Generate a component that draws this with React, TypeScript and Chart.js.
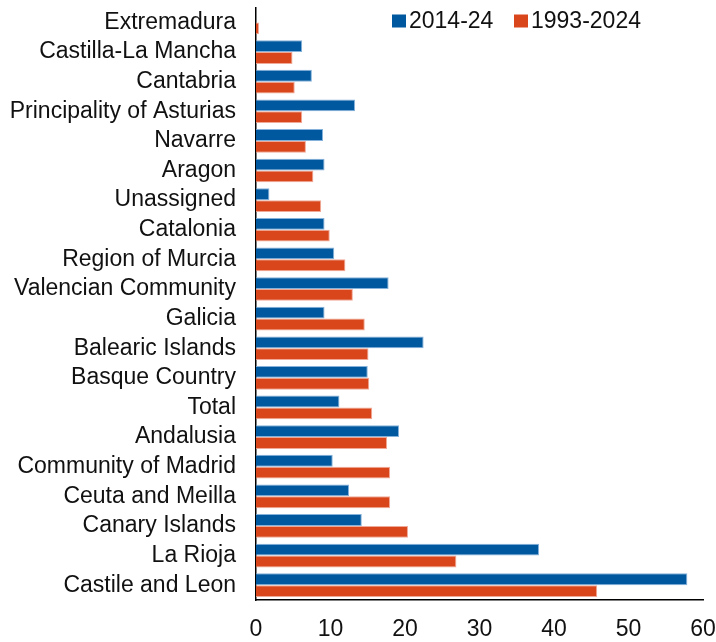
import React, { useEffect, useRef } from "react";
import { Chart, registerables } from "chart.js";

Chart.register(...registerables);

const regions = [
  "Extremadura",
  "Castilla-La Mancha",
  "Cantabria",
  "Principality of Asturias",
  "Navarre",
  "Aragon",
  "Unassigned",
  "Catalonia",
  "Region of Murcia",
  "Valencian Community",
  "Galicia",
  "Balearic Islands",
  "Basque Country",
  "Total",
  "Andalusia",
  "Community of Madrid",
  "Ceuta and Meilla",
  "Canary Islands",
  "La Rioja",
  "Castile and Leon",
];

const recent = [
  0, 6.2, 7.5, 13.3, 9.0, 9.2, 1.8, 9.2, 10.5, 17.8,
  9.2, 22.5, 15.0, 11.2, 19.2, 10.3, 12.5, 14.2, 38.0, 57.9,
];

const longRun = [
  0.4, 4.9, 5.2, 6.2, 6.7, 7.7, 8.75, 9.9, 12.0, 13.0,
  14.6, 15.1, 15.2, 15.6, 17.6, 18.0, 18.0, 20.4, 26.9, 45.8,
];

const seriesNames = ["2014-24", "1993-2024"];
const xTicks = [0, 10, 20, 30, 40, 50, 60];

const FONT = "'Liberation Sans', Arial, Helvetica, sans-serif";
const FONT_SIZE = 23;
const BLUE = "#00589E";
const ORANGE = "#D9461B";

// Legend drawn inside the plot, top right
const insideLegend = {
  id: "insideLegend",
  afterDraw(chart: any) {
    const ctx = chart.ctx;
    const items = [
      { box: 392, text: 409 },
      { box: 514, text: 531 },
    ];
    ctx.save();
    ctx.font = `${FONT_SIZE}px ${FONT}`;
    ctx.textBaseline = "middle";
    ctx.textAlign = "left";
    chart.data.datasets.forEach((ds: any, i: number) => {
      const it = items[i];
      ctx.fillStyle = ds.backgroundColor;
      ctx.fillRect(it.box, 14.5, 14, 13);
      ctx.fillStyle = "#111";
      ctx.fillText(ds.label, it.text, 21.5);
    });
    ctx.restore();
  },
};

export default function App() {
  const ref = useRef<HTMLCanvasElement>(null);

  useEffect(() => {
    if (!ref.current) return;
    const chart = new Chart(ref.current, {
      type: "bar",
      data: {
        labels: regions,
        datasets: [
          {
            label: seriesNames[0],
            data: recent,
            backgroundColor: BLUE,
            borderColor: "rgba(120,170,215,0.9)",
            borderWidth: 1,
            borderSkipped: "start",
          },
          {
            label: seriesNames[1],
            data: longRun,
            backgroundColor: ORANGE,
            borderColor: "rgba(240,160,140,0.9)",
            borderWidth: 1,
            borderSkipped: "start",
          },
        ],
      },
      options: {
        indexAxis: "y",
        responsive: false,
        animation: false,
        devicePixelRatio: 1,
        layout: { padding: { top: 7.6, right: 13, bottom: 0, left: 0 } },
        plugins: {
          legend: { display: false },
          tooltip: { enabled: false },
        },
        scales: {
          x: {
            min: 0,
            max: 60,
            afterBuildTicks: (scale: any) => {
              scale.ticks = xTicks.map((v) => ({ value: v }));
            },
            afterFit: (scale: any) => {
              scale.height = 42;
              scale.paddingLeft = 0;
              scale.paddingRight = 0;
            },
            grid: { display: false, drawTicks: false },
            border: { display: true, color: "#000", width: 1.5 },
            ticks: {
              color: "#111",
              font: { family: FONT, size: FONT_SIZE },
              padding: 16,
            },
          },
          y: {
            afterFit: (scale: any) => {
              scale.width = 256;
              scale.paddingTop = 0;
              scale.paddingBottom = 0;
            },
            grid: { display: false, drawTicks: false },
            border: { display: true, color: "#000", width: 1.5 },
            ticks: {
              color: "#111",
              font: { family: FONT, size: FONT_SIZE },
              padding: 20,
              autoSkip: false,
            },
          },
        },
        datasets: {
          bar: { categoryPercentage: 0.8, barPercentage: 1 },
        },
      },
      plugins: [insideLegend],
    });
    return () => chart.destroy();
  }, []);

  return (
    <div style={{ position: "absolute", left: 0, top: 0, width: 716, height: 642, background: "#fff" }}>
      <canvas ref={ref} width={716} height={642} style={{ display: "block" }} />
    </div>
  );
}
